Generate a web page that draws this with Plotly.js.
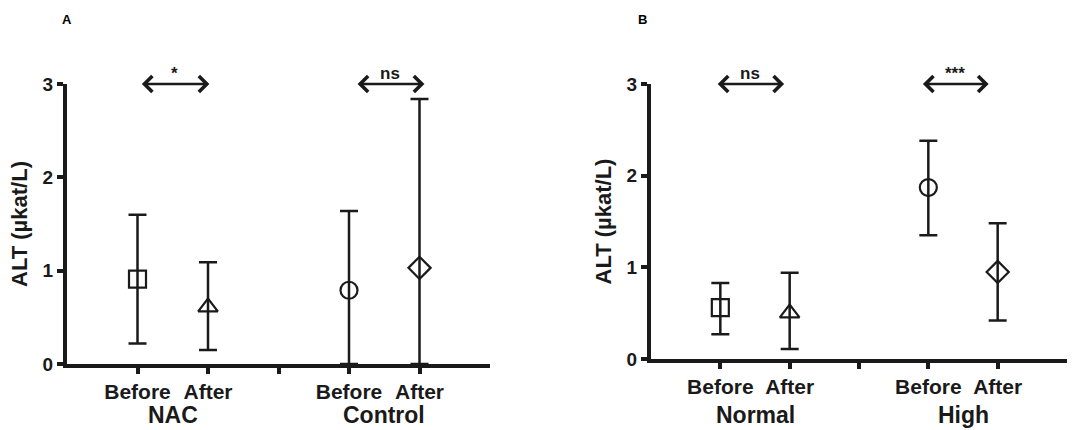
<!DOCTYPE html>
<html>
<head>
<meta charset="utf-8">
<script src="https://cdn.plot.ly/plotly-3.0.1.min.js"></script>
<style>html,body{margin:0;padding:0;background:#fff;}#chart{width:1073px;height:430px;}</style>
</head>
<body>
<div id="chart"></div>
<script>
// ---- Data ----
const tickPositions = [1, 2, 4, 5];
const tickLabels = ["Before", "After", "Before", "After"];
const symbolsList = ["square-open", "triangle-up-open", "circle-open", "diamond-open"];

// Panel A: NAC vs Control
const groupsA = ["NAC", "Control"];
const meanA = [0.91, 0.61, 0.79, 1.03];
const upperA = [1.60, 1.09, 1.64, 2.84];
const lowerA = [0.22, 0.15, 0.00, 0.00];
const sigA = ["*", "ns"];

// Panel B: Normal vs High
const groupsB = ["Normal", "High"];
const meanB = [0.56, 0.50, 1.87, 0.95];
const upperB = [0.83, 0.94, 2.38, 1.48];
const lowerB = [0.27, 0.11, 1.35, 0.42];
const sigB = ["ns", "***"];

const FONT = "Liberation Sans, Arial, sans-serif";
const INK = "#1a1a1a";

function trace(means, up, lo, xa, ya) {
  return {
    type: "scatter", mode: "markers",
    x: tickPositions, y: means, xaxis: xa, yaxis: ya,
    cliponaxis: false, showlegend: false, hoverinfo: "skip",
    marker: { symbol: symbolsList, size: 17, color: INK, line: { width: 2.2, color: INK } },
    error_y: {
      type: "data", symmetric: false,
      array: means.map((m, i) => up[i] - m),
      arrayminus: means.map((m, i) => m - lo[i]),
      color: INK, thickness: 2.5, width: 9
    }
  };
}

const data = [
  trace(meanA, upperA, lowerA, "x", "y"),
  trace(meanB, upperB, lowerB, "x2", "y2")
];

function xax(domain, anchor) {
  return {
    domain: domain, anchor: anchor, range: [0, 6], fixedrange: true,
    showgrid: false, zeroline: false, showline: true, linecolor: INK, linewidth: 4,
    ticks: "outside", ticklen: 6, tickwidth: 4, tickcolor: INK,
    tickvals: [1, 2, 3, 4, 5],
    ticktext: [tickLabels[0], tickLabels[1], "", tickLabels[2], tickLabels[3]],
    tickfont: { family: FONT, size: 21, color: INK, weight: "bold" }
  };
}
function yax(domain, anchor) {
  return {
    domain: domain, anchor: anchor, range: [0, 3], fixedrange: true,
    showgrid: false, zeroline: false, showline: true, linecolor: INK, linewidth: 4,
    ticks: "outside", ticklen: 6, tickwidth: 4, tickcolor: INK,
    tickvals: [0, 1, 2, 3],
    tickfont: { family: FONT, size: 19, color: INK, weight: "bold" },
    title: { text: "ALT (µkat/L)", standoff: 10, font: { family: FONT, size: 22, color: INK, weight: "bold" } }
  };
}

const annotations = [];
function panelAnnots(xa, ya, groups, sig, arrows, letter, letterX) {
  // group labels
  groups.forEach((g, i) => {
    annotations.push({ xref: xa, yref: "paper", x: 1.5 + 3 * i, y: 15 / 430, yanchor: "middle", text: g, showarrow: false,
      font: { family: FONT, size: 23, color: INK, weight: "bold" } });
  });
  // significance arrows
  arrows.forEach((a, i) => {
    annotations.push({ xref: xa, yref: ya, axref: xa, ayref: ya, x: a[1], y: 3, ax: a[0], ay: 3,
      text: "", showarrow: true, arrowside: "end+start", arrowhead: 4, startarrowhead: 4,
      arrowsize: 1.3, startarrowsize: 1.3, arrowwidth: 2.4, arrowcolor: INK });
    annotations.push({ xref: xa, yref: ya, x: (a[0] + a[1]) / 2, y: 3, yshift: 10, text: sig[i], showarrow: false,
      font: { family: FONT, size: 17, color: INK, weight: "bold" } });
  });
  annotations.push({ xref: "paper", yref: "paper", x: letterX, y: (430 - 20) / 430, yanchor: "middle", text: letter, showarrow: false,
    xanchor: "center", font: { family: FONT, size: 13, color: "#000", weight: "bold" } });
}
panelAnnots("x", "y", groupsA, sigA, [[1.04, 2.02], [4.1, 5.07]], "A", 67 / 1073);
panelAnnots("x2", "y2", groupsB, sigB, [[0.94, 1.92], [3.9, 4.87]], "B", 642 / 1073);

const layout = {
  width: 1073, height: 430,
  margin: { l: 0, r: 0, t: 0, b: 0 },
  paper_bgcolor: "#fff", plot_bgcolor: "#fff",
  xaxis: xax([67 / 1073, 490 / 1073], "y"),
  yaxis: yax([(430 - 364) / 430, (430 - 84) / 430], "x"),
  xaxis2: xax([651 / 1073, 1067 / 1073], "y2"),
  yaxis2: yax([(430 - 359) / 430, (430 - 84) / 430], "x2"),
  annotations: annotations
};

Plotly.newPlot("chart", data, layout, { displayModeBar: false, staticPlot: true });
</script>
</body>
</html>
